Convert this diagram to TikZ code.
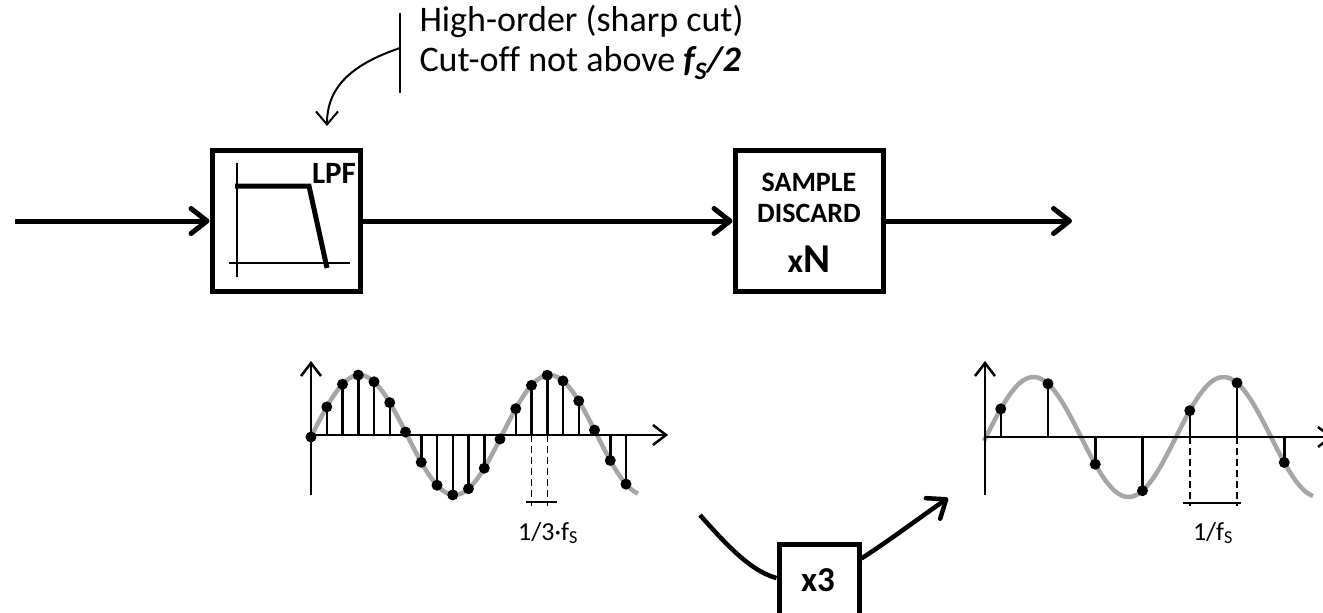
\documentclass[tikz,border=0pt]{standalone}
\usepackage{fontspec}
\setmainfont{Carlito}[Ligatures=NoCommon]
\usetikzlibrary{arrows.meta,calc}
\definecolor{SineGray}{HTML}{A6A6A6}
\tikzset{>={Straight Barb[length=16pt,width=25pt,line cap=round,line join=round]},
 every node/.style={font=\fontsize{36}{40}\selectfont},block/.style={draw,line width=5pt,
 minimum width=148pt,minimum height=141pt},flow/.style={line width=5pt,->},
 axisline/.style={line width=2.5pt,-{Straight Barb[length=13pt,width=20pt]}},
 stem/.style={line width=2.5pt},sine/.style={SineGray,line width=4.5pt},
 hint/.style={line width=2pt,-{Straight Barb[length=13pt,width=22pt]}},
 guide/.style={line width=1.5pt,dash pattern=on 7pt off 4pt},
 boxtext/.style={font=\bfseries\fontsize{28}{31}\selectfont,align=center},
 ticktext/.style={font=\fontsize{26}{30}\selectfont}}
\begin{document}
\begin{tikzpicture}[x=1pt,y=-1pt]
\useasboundingbox (0,0) rectangle (1323,613);
\node[block] (lpf) at (286,221) {};
\node[block] (sd) at (809,221) {};
\coordinate (in) at (15,221);
\coordinate (out) at (1072,221);
\draw[flow] (in)--(lpf.west);
\draw[flow] (lpf.east)--(sd.west);
\draw[flow] (sd.east)--(out);
\draw[line width=1.5pt] (237,163)--(237,277);
\draw[line width=1.5pt] (229,263)--(350,263);
\draw[line width=5pt] (235,186)--(309,186)--(327,268);
\node[font=\bfseries\fontsize{31}{31}\selectfont] (lpfname) at (334,173) {LPF};
\node[boxtext] (sdname) at (809,198) {SAMPLE\\DISCARD};
\node[boxtext] (sdfactor) at (809,259) {{\fontsize{34}{34}\selectfont x}{\fontsize{41}{41}\selectfont N}};
\draw[line width=1.5pt] (400,13)--(400,93);
\node[anchor=west,align=left] (note) at (416,42) {High-order (sharp cut)\\
 Cut-off not above \textbf{\textit{f\textsubscript{S}/2}}};
\coordinate (notefrom) at (400,48);
\coordinate (lpfhint) at (327,126);
\draw[hint] (notefrom) .. controls (350,65) and (327,88) .. (lpfhint);
\draw[sine] plot[domain=311:638,samples=120] (\x,{435-60*sin((\x-312)/190*360)});
\foreach \i in {0,...,20}{
 \pgfmathsetmacro\sx{311+15.75*\i}
 \pgfmathsetmacro\sy{435-60*sin((\sx-312)/190*360)}
 \draw[stem] (\sx,435)--(\sx,\sy);
 \fill (\sx,\sy) circle (5.5);
}
\draw[axisline] (311,495)--(311,361);
\draw[axisline] (311,435)--(668,435);
\draw[guide] (531.5,435)--(531.5,506);
\draw[guide] (547.25,435)--(547.25,506);
\draw[stem] (526,502)--(557,502);
\node[ticktext] (slowtick) at (548,533) {1/3·f\textsubscript{S}};
\draw[sine] plot[domain=984:1313,samples=120] (\x,{437-60*sin((\x-986)/190*360)});
\foreach \k in {0,...,6}{
 \pgfmathsetmacro\sx{985+15.75*(3*\k+1)}
 \pgfmathsetmacro\sy{437-60*sin((\sx-986)/190*360)}
 \draw[stem] (\sx,437)--(\sx,\sy);
 \fill (\sx,\sy) circle (5.5);
}
\draw[axisline] (985,495)--(985,361);
\draw[axisline] (985,437)--(1333,437);
\draw[guide] (1189.75,437)--(1189.75,506);
\draw[guide] (1237,437)--(1237,506);
\draw[stem] (1183,503)--(1241,503);
\node[ticktext] (fasttick) at (1213,533) {1/f\textsubscript{S}};
\node[draw,line width=5pt,minimum width=80pt,minimum height=74pt] (x3) at (819,581) {};
\node[font=\bfseries\fontsize{35}{35}\selectfont] (x3name) at (818,580) {x3};
\coordinate (fromleft) at (700,515);
\coordinate (toright) at (948,498);
\draw[line width=4.5pt] (fromleft) .. controls (735,555) and (755,572) .. (x3.176);
\draw[flow,line width=4.5pt] (x3.28) .. controls (890,540) and (915,521) .. (toright);
\end{tikzpicture}
\end{document}
